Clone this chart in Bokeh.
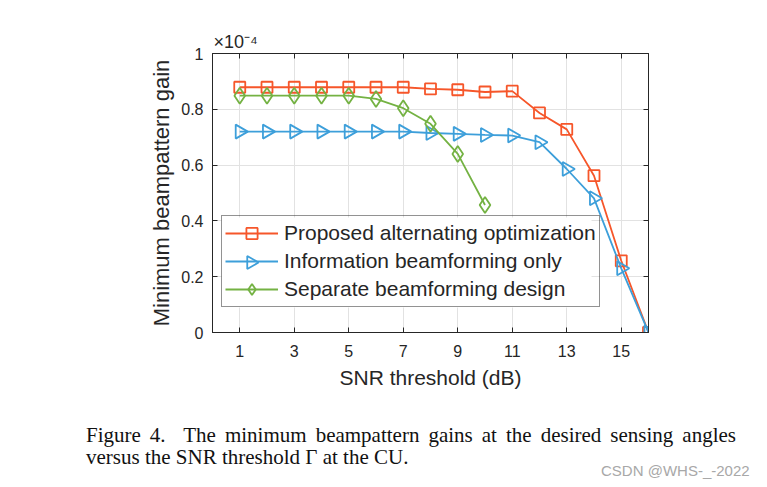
from bokeh.plotting import figure
from bokeh.models import (Range1d, FixedTicker, LinearAxis, Legend, LegendItem,
                          Title, Div, ColumnDataSource, CustomLabelingPolicy)
from bokeh.layouts import column
from bokeh.embed import file_html
from bokeh.resources import INLINE
import math

# ---------------- data ----------------
snr_db = [1, 2, 3, 4, 5, 6, 7, 8, 9, 10, 11, 12, 13, 14, 15, 16]
proposed_gain = [0.879, 0.879, 0.879, 0.879, 0.879, 0.879, 0.879, 0.873, 0.870,
                 0.862, 0.865, 0.787, 0.728, 0.562, 0.257, 0.0]
info_only_gain = [0.720, 0.720, 0.720, 0.720, 0.720, 0.720, 0.720, 0.715, 0.712,
                  0.708, 0.706, 0.682, 0.586, 0.481, 0.230, 0.0]
separate_snr_db = [1, 2, 3, 4, 5, 6, 7, 8, 9, 10]
separate_gain = [0.849, 0.849, 0.849, 0.849, 0.849, 0.837, 0.804, 0.748, 0.640, 0.457]

series_names = ["Proposed alternating optimization",
                "Information beamforming only",
                "Separate beamforming design"]
x_ticks = [1, 3, 5, 7, 9, 11, 13, 15]
y_ticks = [0, 0.2, 0.4, 0.6, 0.8, 1.0]
y_tick_labels = ["0", "0.2", "0.4", "0.6", "0.8", "1"]
x_label = "SNR threshold (dB)"
y_label = "Minimum beampattern gain"
exp_text = "\u00d710\u207b\u2074"
caption_line1 = "Figure 4.\u00a0 The minimum beampattern gains at the desired sensing angles"
caption_line2 = "versus the SNR threshold \u0393 at the CU."
watermark = "CSDN @WHS-_-2022"

# ---------------- styling ----------------
RED = "#F6562A"
BLUE = "#3D9FDA"
GREEN = "#74B243"
AX = "#262626"
SANS = "Liberation Sans"
FW, FH = 436, 279
X0, X1 = 0, 16
Y0, Y1 = 0, 1

def px_to_x(px):
    return X0 + px * (X1 - X0) / FW

def px_to_y(px):
    return Y0 + px * (Y1 - Y0) / FH

p = figure(frame_width=FW, frame_height=FH, output_backend="svg", title=None,
           toolbar_location=None, x_range=Range1d(X0, X1), y_range=Range1d(Y0, Y1),
           min_border_left=212, min_border_right=119, min_border_top=53,
           min_border_bottom=68, background_fill_color="white",
           border_fill_color="white", outline_line_color=AX, outline_line_width=1)

for ax in [p.xaxis[0], p.yaxis[0]]:
    ax.axis_line_color = AX
    ax.major_tick_line_color = AX
    ax.major_tick_in = 5
    ax.major_tick_out = 0
    ax.minor_tick_line_color = None
    ax.major_label_text_font = SANS
    ax.major_label_text_font_size = "16px"
    ax.major_label_text_color = AX
    ax.axis_label_text_font = SANS
    ax.axis_label_text_font_style = "normal"
    ax.axis_label_text_color = AX

p.xaxis.axis_label_text_font_size = "21px"
p.yaxis.axis_label_text_font_size = "22px"
p.xaxis.ticker = FixedTicker(ticks=x_ticks)
p.yaxis.ticker = FixedTicker(ticks=y_ticks)
p.yaxis.major_label_overrides = {t: s for t, s in zip(y_ticks, y_tick_labels)}
p.xaxis.axis_label = x_label
p.yaxis.axis_label = y_label
p.xaxis.major_label_standoff = 12
p.yaxis.major_label_standoff = 9
p.xaxis.axis_label_standoff = 6
p.yaxis.axis_label_standoff = 4

# box ticks on top / right (no labels)
no_labels = CustomLabelingPolicy(
    code="for (const i of Array.from(indices)) { indices.unset(i) } return indices")
top_ax = LinearAxis(ticker=FixedTicker(ticks=x_ticks), major_tick_in=5, major_tick_out=0,
                    minor_tick_line_color=None, major_label_policy=no_labels,
                    major_label_text_font_size="1px",
                    axis_line_color=AX, major_tick_line_color=AX, major_label_standoff=0)
right_ax = LinearAxis(ticker=FixedTicker(ticks=y_ticks), major_tick_in=5, major_tick_out=0,
                      minor_tick_line_color=None, major_label_policy=no_labels,
                      major_label_text_font_size="1px",
                      axis_line_color=AX, major_tick_line_color=AX, major_label_standoff=0)
p.add_layout(top_ax, "above")
p.add_layout(right_ax, "right")

# axis multiplier "x10^-4" above the top-left corner
p.add_layout(Title(text=exp_text, align="left", offset=1, standoff=-4,
                   text_font=SANS, text_font_size="18px", text_font_style="normal",
                   text_color=AX), "above")

p.xgrid.ticker = FixedTicker(ticks=x_ticks)
p.ygrid.ticker = FixedTicker(ticks=y_ticks)
p.grid.grid_line_color = "#e2e2e2"
p.grid.grid_line_width = 1

src_a = ColumnDataSource(dict(x=snr_db, y=proposed_gain))
src_b = ColumnDataSource(dict(x=snr_db, y=info_only_gain))
src_c = ColumnDataSource(dict(x=separate_snr_db, y=separate_gain))

LW = 1.8
la = p.line("x", "y", source=src_a, color=RED, line_width=LW)
ma = p.scatter("x", "y", source=src_a, marker="square", size=11, line_color=RED,
               fill_color=None, line_width=LW)
lb = p.line("x", "y", source=src_b, color=BLUE, line_width=LW)
mb = p.scatter("x", "y", source=src_b, marker="triangle", size=14, angle=-math.pi / 2,
               line_color=BLUE, fill_color=None, line_width=LW)
lc = p.line("x", "y", source=src_c, color=GREEN, line_width=LW)
mc = p.scatter("x", "y", source=src_c, marker="diamond", size=16, line_color=GREEN,
               fill_color=None, line_width=LW)

# legend layout parameters (pixels from the frame's bottom-left corner)
LEG_X, LEG_Y = 9, 25
LEG_PAD, ROW_H, GLYPH_W = 3, 28, 53
LEG_BG_W = 370          # white backing under the (transparent) legend box
n_items = len(series_names)
leg_h = 2 * LEG_PAD + n_items * ROW_H
leg_top = LEG_Y + leg_h

# white backing drawn as a glyph so the right-pointing triangle can sit on it
p.quad(left=[px_to_x(LEG_X)], right=[px_to_x(LEG_X + LEG_BG_W)],
       bottom=[px_to_y(LEG_Y)], top=[px_to_y(leg_top)],
       fill_color="white", line_color=None)
# right-pointing triangle for the legend's second entry (legend ignores marker angle)
tri_src = ColumnDataSource(dict(x=[px_to_x(LEG_X + LEG_PAD + GLYPH_W / 2)],
                                y=[px_to_y(leg_top - LEG_PAD - 1.5 * ROW_H)]))
p.scatter("x", "y", source=tri_src, marker="triangle", size=13, angle=-math.pi / 2,
          line_color=BLUE, fill_color=None, line_width=LW)

legend = Legend(items=[LegendItem(label=series_names[0], renderers=[la, ma]),
                       LegendItem(label=series_names[1], renderers=[lb]),
                       LegendItem(label=series_names[2], renderers=[lc, mc])],
                location=(LEG_X, LEG_Y), margin=0, padding=LEG_PAD, spacing=0,
                glyph_width=GLYPH_W, glyph_height=ROW_H, label_height=ROW_H,
                label_standoff=6,
                label_text_font=SANS, label_text_font_size="21px",
                label_text_color=AX, border_line_color=AX, border_line_width=1,
                background_fill_color="white", background_fill_alpha=0)
p.add_layout(legend)

html = f"""
<div style="position:relative;width:767px;height:87px;font-family:'Liberation Serif';color:#111;">
  <div style="position:absolute;left:86px;top:25px;width:650px;font-size:21px;line-height:21px;text-align:justify;text-align-last:justify;">{caption_line1}</div>
  <div style="position:absolute;left:86px;top:47px;font-size:21px;line-height:21px;white-space:nowrap;">{caption_line2}</div>
  <div style="position:absolute;left:601px;top:63px;font-family:'Liberation Sans';font-size:15px;line-height:15px;color:#a8a8a8;white-space:nowrap;">{watermark}</div>
</div>
"""
cap = Div(text=html, width=767, height=87, margin=(0, 0, 0, 0))

layout = column(p, cap, spacing=0)
open("out.html", "w").write(file_html(layout, INLINE))
